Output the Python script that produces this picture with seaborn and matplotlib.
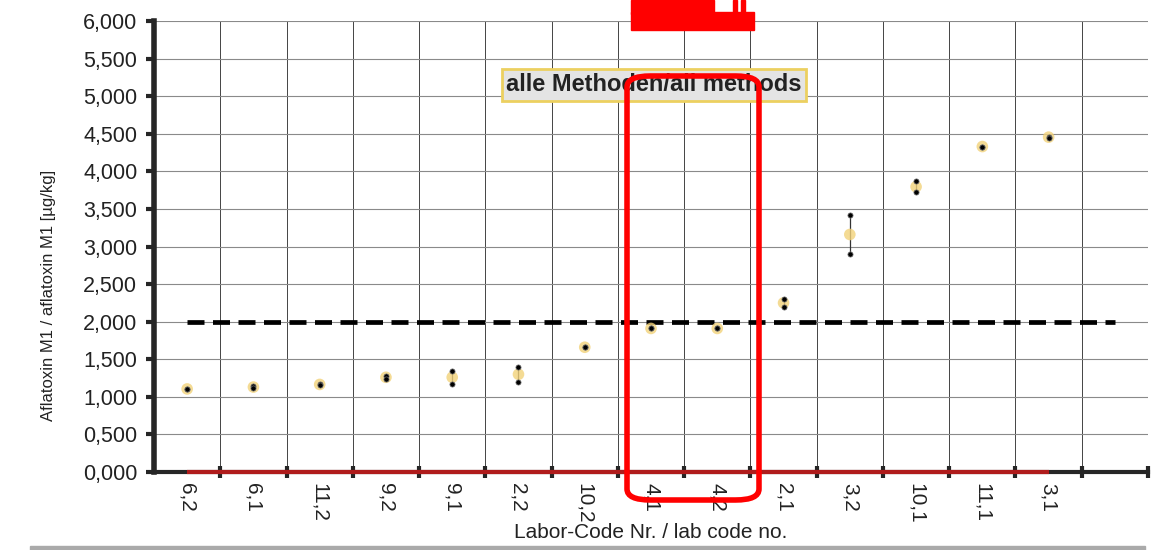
import matplotlib as mpl
import matplotlib.pyplot as plt
import seaborn as sns
import pandas as pd
from matplotlib.patches import FancyBboxPatch, Rectangle
from matplotlib.ticker import FuncFormatter, MultipleLocator

labs = ['6,2', '6,1', '11,2', '9,2', '9,1', '2,2', '10,2',
        '4,1', '4,2', '2,1', '3,2', '10,1', '11,1', '3,1']
rep1 = [1.11, 1.14, 1.17, 1.28, 1.35, 1.40, 1.66, 1.91, 1.91, 2.30, 3.42, 3.87, 4.33, 4.46]
rep2 = [1.10, 1.12, 1.16, 1.24, 1.17, 1.20, 1.66, 1.91, 1.91, 2.20, 2.90, 3.72, 4.33, 4.45]
limit = 2.0
y_ticks = [0.0, 0.5, 1.0, 1.5, 2.0, 2.5, 3.0, 3.5, 4.0, 4.5, 5.0, 5.5, 6.0]

sns.set_style('white')
mpl.rcParams['font.family'] = ['Liberation Sans', 'DejaVu Sans']

df = pd.DataFrame({'lab': labs, 'rep1': rep1, 'rep2': rep2})
df['pos'] = [i + 0.5 for i in range(len(labs))]
df['mean'] = (df['rep1'] + df['rep2']) / 2
reps = df.melt(id_vars=['lab', 'pos'], value_vars=['rep1', 'rep2'], value_name='value')

fig = plt.figure(figsize=(11.73, 5.5), dpi=100)
ax = fig.add_axes([0.1313, 0.1418, 0.8474, 0.82])

n_slots = len(labs) + 1
ax.set_xlim(0, n_slots)
ax.set_ylim(0, 6.0)

# grid
for x in range(1, n_slots + 1):
    ax.axvline(x, color='#444444', lw=0.7, zorder=0)
for y in y_ticks[1:]:
    ax.axhline(y, color='#8a8a8a', lw=0.8, zorder=0)

# limit line
ax.hlines(limit, df['pos'].iloc[0], df['pos'].iloc[-1] + 1, colors='black',
          linestyles=(0, (3.6, 1.8)), lw=3.4, zorder=2)

# ranges and points
ax.vlines(df['pos'], df[['rep1', 'rep2']].min(axis=1), df[['rep1', 'rep2']].max(axis=1),
          colors='#333333', lw=0.9, zorder=3)
sns.scatterplot(data=df, x='pos', y='mean', s=70, color='#f2d27a', edgecolor='none',
                alpha=0.8, ax=ax, zorder=4, legend=False)
sns.scatterplot(data=reps, x='pos', y='value', s=14, color='black', edgecolor='#777777',
                linewidth=0.5, ax=ax, zorder=5, legend=False)

# axes styling
for side in ['top', 'right']:
    ax.spines[side].set_visible(False)
ax.spines['left'].set_linewidth(4)
ax.spines['bottom'].set_linewidth(3)
ax.hlines(0, df['pos'].iloc[0], df['pos'].iloc[-1], colors='#b01c1c', lw=3,
          zorder=6, clip_on=False)

ax.yaxis.set_major_locator(MultipleLocator(0.5))
ax.yaxis.set_major_formatter(FuncFormatter(lambda v, p: f'{v:.3f}'.replace('.', ',')))
ax.tick_params(axis='y', direction='out', length=6, width=3, labelsize=15.5,
               pad=6, left=True, labelcolor='#222222')
ax.set_xticks(range(1, n_slots + 1), minor=False)
ax.set_xticklabels([])
ax.tick_params(axis='x', which='major', direction='inout', length=8, width=3, bottom=True)
ax.set_xticks(df['pos'], minor=True)
ax.set_xticklabels(labs, minor=True, rotation=-90, fontsize=15, color='#222222')
ax.tick_params(axis='x', which='minor', length=0, pad=8)

ax.set_ylabel('Aflatoxin M1 / aflatoxin M1 [µg/kg]', fontsize=12, color='#222222')
ax.yaxis.set_label_coords(-0.099, 0.392)
ax.set_xlabel('Labor-Code Nr. / lab code no.', fontsize=15, color='#222222')
ax.xaxis.set_label_coords(0.5, -0.112)

ax.text(0.503, 5.15, 'alle Methoden/all methods', transform=ax.get_yaxis_transform(),
        ha='center', va='center', fontsize=17, fontweight='bold', color='#222222',
        bbox=dict(boxstyle='square,pad=0.18', facecolor='#e4e4e4', edgecolor='#ecd060', lw=2),
        zorder=7)

# red annotation overlays
fig.patches.append(FancyBboxPatch((627 / 1173, 1 - 500 / 550), 132 / 1173, 424 / 550,
                                  boxstyle='round,pad=0,rounding_size=0.02',
                                  transform=fig.transFigure, fill=False,
                                  edgecolor='#ff0000', lw=4, zorder=10))
for x0, y0, w, h in [(631, 12, 123, 18), (631, 0, 83, 14), (733, 0, 4, 14), (741, 0, 4, 14)]:
    fig.patches.append(Rectangle((x0 / 1173, 1 - (y0 + h) / 550), w / 1173, h / 550,
                                 transform=fig.transFigure, color='#ff0000', zorder=10))
fig.patches.append(Rectangle((30 / 1173, 0), 1115 / 1173, 4 / 550,
                             transform=fig.transFigure, color='#aaaaaa', zorder=10))

fig.savefig('out.png', dpi=100)
